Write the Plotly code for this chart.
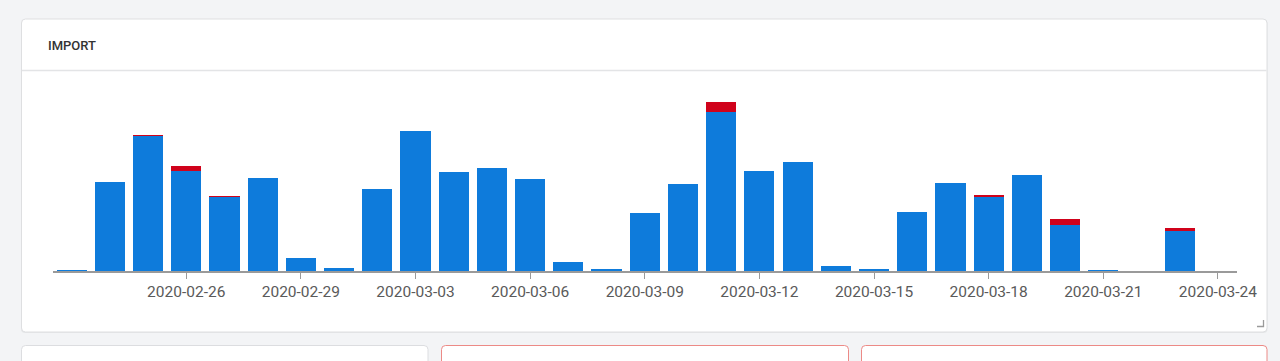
import plotly.graph_objects as go

# ---- data ----
dates = ["2020-02-23", "2020-02-24", "2020-02-25", "2020-02-26", "2020-02-27", "2020-02-28",
         "2020-02-29", "2020-03-01", "2020-03-02", "2020-03-03", "2020-03-04", "2020-03-05",
         "2020-03-06", "2020-03-07", "2020-03-08", "2020-03-09", "2020-03-10", "2020-03-11",
         "2020-03-12", "2020-03-13", "2020-03-14", "2020-03-15", "2020-03-16", "2020-03-17",
         "2020-03-18", "2020-03-19", "2020-03-20", "2020-03-21", "2020-03-22", "2020-03-23",
         "2020-03-24"]
blue_values = [1, 89, 135, 100, 74, 93, 13, 3, 82, 140, 99, 103, 92, 9, 2, 58, 87, 159,
               100, 109, 5, 1.3, 59, 88, 74, 96, 46, 1, 0, 40, 0]
red_values = [0, 0, 1, 5, 1, 0, 0, 0, 0, 0, 0, 0, 0, 0, 0, 0, 0, 10,
              0, 0, 0, 0, 0, 0, 1.6, 0, 6, 0, 0, 3, 0]
tick_dates = ["2020-02-26", "2020-02-29", "2020-03-03", "2020-03-06", "2020-03-09",
              "2020-03-12", "2020-03-15", "2020-03-18", "2020-03-21", "2020-03-24"]
title_text = "IMPORT"

W, H = 1280, 361
BLUE = "#0e7bdb"
RED = "#d0021b"


def px(x):
    return x / W


def py(y):
    return 1 - y / H


def rrect(x0, y0, x1, y1, r):
    pts = []
    pts.append(f"M {px(x0 + r)},{py(y0)}")
    pts.append(f"L {px(x1 - r)},{py(y0)}")
    pts.append(f"Q {px(x1)},{py(y0)} {px(x1)},{py(y0 + r)}")
    pts.append(f"L {px(x1)},{py(y1 - r)}")
    pts.append(f"Q {px(x1)},{py(y1)} {px(x1 - r)},{py(y1)}")
    pts.append(f"L {px(x0 + r)},{py(y1)}")
    pts.append(f"Q {px(x0)},{py(y1)} {px(x0)},{py(y1 - r)}")
    pts.append(f"L {px(x0)},{py(y0 + r)}")
    pts.append(f"Q {px(x0)},{py(y0)} {px(x0 + r)},{py(y0)}")
    pts.append("Z")
    return " ".join(pts)


fig = go.Figure()
bar_w = 0.79 * 86400000
fig.add_trace(go.Bar(x=dates, y=blue_values, marker=dict(color=BLUE, line=dict(width=0)),
                     width=bar_w, hoverinfo="x+y", name="ok"))
fig.add_trace(go.Bar(x=dates, y=red_values, marker=dict(color=RED, line=dict(width=0)),
                     width=bar_w, hoverinfo="x+y", name="error"))

shapes = []
shapes.append(dict(type="path", path=rrect(21, 19.5, 1267.5, 333, 4), xref="paper", yref="paper",
                   fillcolor="#e6e7e9", line=dict(width=0), layer="below"))
shapes.append(dict(type="path", path=rrect(21.5, 19, 1267, 332, 4), xref="paper", yref="paper",
                   fillcolor="white", line=dict(color="#dedfe1", width=1), layer="below"))
shapes.append(dict(type="line", x0=px(22), x1=px(1266.5), y0=py(70.5), y1=py(70.5),
                   xref="paper", yref="paper", line=dict(color="#e3e4e6", width=1.5), layer="below"))
shapes.append(dict(type="path", path=rrect(21.5, 345.5, 428, 380, 4), xref="paper", yref="paper",
                   fillcolor="white", line=dict(color="#dcdde0", width=1), layer="below"))
shapes.append(dict(type="path", path=rrect(441.5, 345.5, 848.5, 380, 4), xref="paper", yref="paper",
                   fillcolor="white", line=dict(color="#ec8a86", width=1), layer="below"))
shapes.append(dict(type="path", path=rrect(861.5, 345.5, 1267, 380, 4), xref="paper", yref="paper",
                   fillcolor="white", line=dict(color="#ec8a86", width=1), layer="below"))
shapes.append(dict(type="path",
                   path=f"M {px(1263.5)},{py(320)} L {px(1263.5)},{py(326.5)} L {px(1257)},{py(326.5)}",
                   xref="paper", yref="paper", line=dict(color="#9a9a9a", width=1.3), layer="above"))

fig.update_layout(
    width=1300, height=H,
    autosize=False,
    margin=dict(l=0, r=0, t=0, b=0),
    paper_bgcolor="#f3f4f6",
    plot_bgcolor="rgba(0,0,0,0)",
    barmode="stack",
    showlegend=False,
    shapes=shapes,
    font=dict(family="Roboto", color="#5a5a5a"),
    annotations=[dict(text=title_text, x=px(46), y=py(45), xref="paper", yref="paper",
                      xanchor="left", yanchor="middle", showarrow=False,
                      font=dict(family="Roboto", size=13, color="#333333", weight=500))],
    xaxis=dict(
        type="date",
        domain=[px(52.5), px(1237)],
        range=["2020-02-22 12:00", "2020-03-24 12:00"],
        tickvals=tick_dates,
        tickformat="%Y-%m-%d",
        ticks="outside", ticklen=6, tickwidth=1.3, tickcolor="#9a9a9a",
        showline=True, linecolor="#9a9a9a", linewidth=1.5,
        showgrid=False, zeroline=False,
        tickfont=dict(family="Roboto", size=15.5, color="#5a5a5a"),
        fixedrange=True,
    ),
    yaxis=dict(
        domain=[1 - 271 / H, 1 - 90 / H],
        range=[0, 181],
        visible=False, fixedrange=True,
    ),
)

fig.write_html(
    "out.html",
    config={"displayModeBar": False, "responsive": False},
    post_script="document.body.style.margin='0';document.body.style.overflow='hidden';"
                "document.documentElement.style.background='#f3f4f6';",
)
